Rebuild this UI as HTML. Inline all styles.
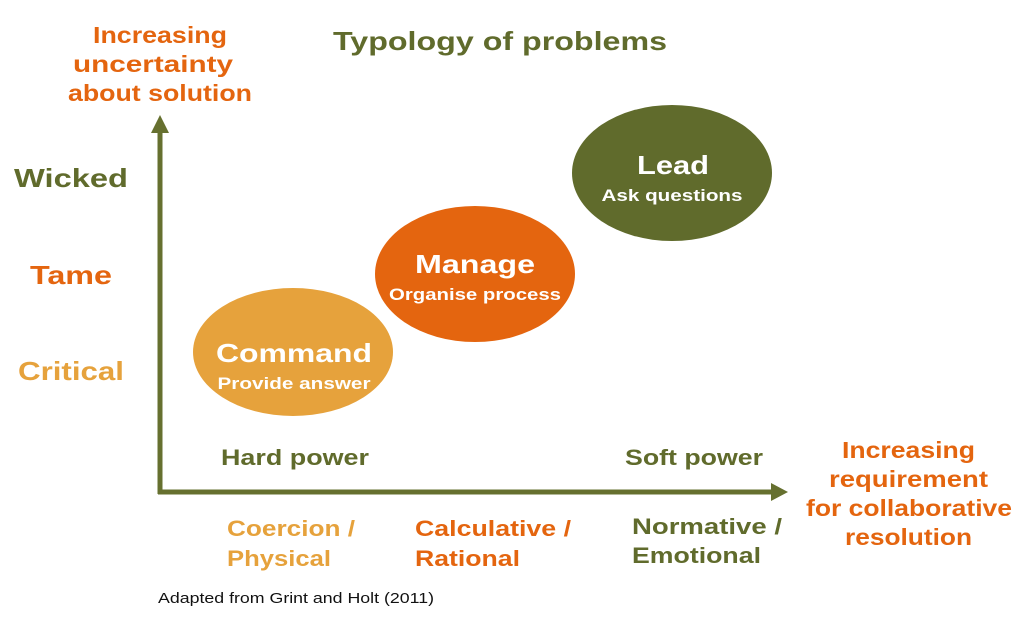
<!DOCTYPE html>
<html><head><meta charset="utf-8"><style>
html,body{margin:0;padding:0;background:#fff;}
svg{display:block;}
text{font-family:"Liberation Sans",sans-serif;font-weight:bold;}
</style></head><body>
<svg width="1024" height="624" viewBox="0 0 1024 624">
<g fill="#e4650f" font-size="23" text-anchor="middle" lengthAdjust="spacingAndGlyphs">
<text x="160" y="43" textLength="134" lengthAdjust="spacingAndGlyphs">Increasing</text>
<text x="153" y="72" textLength="160" lengthAdjust="spacingAndGlyphs">uncertainty</text>
<text x="160" y="101" textLength="184" lengthAdjust="spacingAndGlyphs">about solution</text>
</g>
<text x="500" y="50" font-size="26" fill="#606b2c" text-anchor="middle" textLength="334" lengthAdjust="spacingAndGlyphs">Typology of problems</text>
<text x="71" y="187" font-size="26" fill="#606b2c" text-anchor="middle" textLength="114" lengthAdjust="spacingAndGlyphs">Wicked</text>
<text x="71" y="284" font-size="26" fill="#e4650f" text-anchor="middle" textLength="82" lengthAdjust="spacingAndGlyphs">Tame</text>
<text x="71" y="380" font-size="26" fill="#e6a23c" text-anchor="middle" textLength="106" lengthAdjust="spacingAndGlyphs">Critical</text>
<line x1="160" y1="132" x2="160" y2="494" stroke="#66702f" stroke-width="5"/>
<polygon points="160,115 151,133 169,133" fill="#66702f"/>
<line x1="158" y1="492" x2="774" y2="492" stroke="#66702f" stroke-width="5"/>
<polygon points="788,492 771,483 771,501" fill="#66702f"/>
<ellipse cx="293" cy="352" rx="100" ry="64" fill="#e6a23c"/>
<ellipse cx="475" cy="274" rx="100" ry="68" fill="#e4650f"/>
<ellipse cx="672" cy="173" rx="100" ry="68" fill="#606b2c"/>
<g fill="#fff" text-anchor="middle">
<text x="294" y="362" font-size="26" textLength="156" lengthAdjust="spacingAndGlyphs">Command</text>
<text x="294" y="389" font-size="17" textLength="153" lengthAdjust="spacingAndGlyphs">Provide answer</text>
<text x="475" y="273" font-size="26" textLength="120" lengthAdjust="spacingAndGlyphs">Manage</text>
<text x="475" y="300" font-size="17" textLength="172" lengthAdjust="spacingAndGlyphs">Organise process</text>
<text x="673" y="174" font-size="26" textLength="72" lengthAdjust="spacingAndGlyphs">Lead</text>
<text x="672" y="201" font-size="17" textLength="141" lengthAdjust="spacingAndGlyphs">Ask questions</text>
</g>
<text x="221" y="465" font-size="22" fill="#606b2c" textLength="148" lengthAdjust="spacingAndGlyphs">Hard power</text>
<text x="625" y="465" font-size="22" fill="#606b2c" textLength="138" lengthAdjust="spacingAndGlyphs">Soft power</text>
<g font-size="22">
<text x="227" y="536" fill="#e6a23c" textLength="128" lengthAdjust="spacingAndGlyphs">Coercion /</text>
<text x="227" y="566" fill="#e6a23c" textLength="104" lengthAdjust="spacingAndGlyphs">Physical</text>
<text x="415" y="536" fill="#e4650f" textLength="156" lengthAdjust="spacingAndGlyphs">Calculative /</text>
<text x="415" y="566" fill="#e4650f" textLength="105" lengthAdjust="spacingAndGlyphs">Rational</text>
<text x="632" y="534" fill="#606b2c" textLength="150" lengthAdjust="spacingAndGlyphs">Normative /</text>
<text x="632" y="563" fill="#606b2c" textLength="129" lengthAdjust="spacingAndGlyphs">Emotional</text>
</g>
<g font-size="23" fill="#e4650f">
<text x="842" y="458" textLength="133" lengthAdjust="spacingAndGlyphs">Increasing</text>
<text x="829" y="487" textLength="159" lengthAdjust="spacingAndGlyphs">requirement</text>
<text x="806" y="516" textLength="206" lengthAdjust="spacingAndGlyphs">for collaborative</text>
<text x="845" y="545" textLength="127" lengthAdjust="spacingAndGlyphs">resolution</text>
</g>
<text x="158" y="603" font-size="15" fill="#111" style="font-weight:normal" textLength="276" lengthAdjust="spacingAndGlyphs">Adapted from Grint and Holt (2011)</text>
</svg>
</body></html>
